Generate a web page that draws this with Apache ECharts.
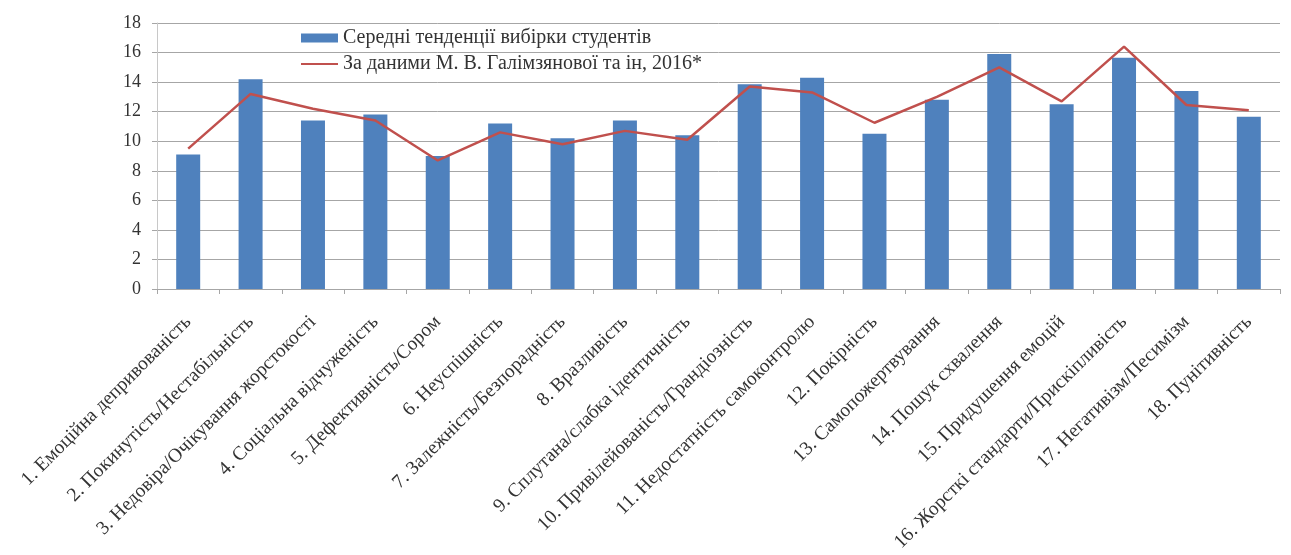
<!DOCTYPE html>
<html><head><meta charset="utf-8">
<script src="https://cdn.jsdelivr.net/npm/echarts@6/dist/echarts.min.js"></script>
<style>html,body{margin:0;padding:0;background:#fff}#c{width:1291px;height:555px}</style>
</head><body><div id="c"></div>
<script>
const categories = [
  "1. Емоційна депривованість",
  "2. Покинутість/Нестабільність",
  "3. Недовіра/Очікування жорстокості",
  "4. Соціальна відчуженість",
  "5. Дефективність/Сором",
  "6. Неуспішність",
  "7. Залежність/Безпорадність",
  "8. Вразливість",
  "9. Сплутана/слабка ідентичність",
  "10. Привілейованість/Грандіозність",
  "11. Недостатність самоконтролю",
  "12. Покірність",
  "13. Самопожертвування",
  "14. Пошук схвалення",
  "15. Придушення емоцій",
  "16. Жорсткі стандарти/Прискіпливість",
  "17. Негативізм/Песимізм",
  "18. Пунітивність"
];
const studentValues = [9.1, 14.2, 11.4, 11.8, 9.0, 11.2, 10.2, 11.4, 10.4, 13.85, 14.3, 10.5, 12.8, 15.9, 12.5, 15.65, 13.4, 11.65];
const galimValues   = [9.5, 13.2, 12.2, 11.4, 8.7, 10.6, 9.8, 10.7, 10.1, 13.7, 13.3, 11.25, 13.0, 15.0, 12.7, 16.4, 12.45, 12.1];
const seriesNames = ["Середні тенденції вибірки студентів", "За даними М. В. Галімзянової та ін, 2016*"];

const font = "'Liberation Serif', 'Times New Roman', serif";
const chart = echarts.init(document.getElementById('c'), null, {renderer: 'canvas'});
chart.setOption({
  animation: false,
  backgroundColor: '#fff',
  textStyle: {fontFamily: font},
  grid: {left: 157, right: 11, top: 23, bottom: 266, containLabel: false, outerBoundsMode: 'none'},
  legend: {
    orient: 'vertical', left: 295, top: 23, itemGap: 6, itemWidth: 37, itemHeight: 9,
    textStyle: {fontFamily: font, fontSize: 20, color: '#333'},
    data: [
      {name: seriesNames[0], icon: 'rect'},
      {name: seriesNames[1], itemStyle: {opacity: 0}}
    ]
  },
  xAxis: {
    type: 'category', data: categories, boundaryGap: true,
    axisLine: {lineStyle: {color: '#a6a6a6', width: 1}},
    axisTick: {show: true, alignWithLabel: false, length: 5, lineStyle: {color: '#a6a6a6'}},
    axisLabel: {interval: 0, rotate: 45, fontFamily: font, fontSize: 19.5, color: '#333', margin: 30}
  },
  yAxis: {
    type: 'value', min: 0, max: 18, interval: 2,
    axisLine: {show: true, lineStyle: {color: '#c8c8c8'}},
    axisTick: {show: true, length: 5, lineStyle: {color: '#a6a6a6'}},
    splitLine: {lineStyle: {color: '#a6a6a6', width: 1}},
    axisLabel: {fontFamily: font, fontSize: 18, color: '#333', margin: 16}
  },
  series: [
    {name: seriesNames[0], type: 'bar', data: studentValues, barWidth: 24,
     itemStyle: {color: '#4F81BD'}},
    {name: seriesNames[1], type: 'line', data: galimValues, symbol: 'none',
     lineStyle: {color: '#C0504D', width: 2.5}, itemStyle: {color: '#C0504D'}}
  ]
});
</script></body></html>
